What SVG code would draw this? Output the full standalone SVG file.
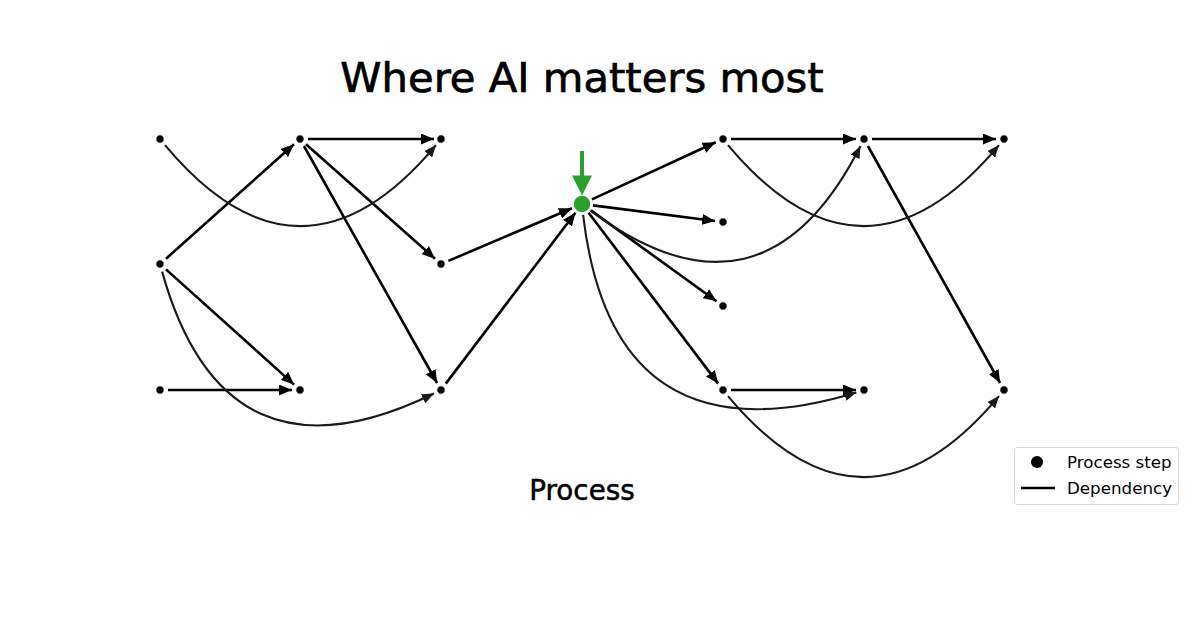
<svg xmlns="http://www.w3.org/2000/svg" width="1200" height="639" viewBox="0 0 1200 639">
<style>
.t{font-family:"DejaVu Sans","Noto Sans",sans-serif;fill:#000}
.s{fill:none;stroke:#000;stroke-width:2.6;marker-end:url(#ah)}
.c{fill:none;stroke:#1a1a1a;stroke-width:2.1;marker-end:url(#ahc)}
.n{fill:#000;stroke:#fff;stroke-width:1}
</style>
<defs>
<marker id="ah" markerUnits="userSpaceOnUse" viewBox="0 0 13 11" markerWidth="13" markerHeight="11" refX="13" refY="5.5" orient="auto"><path d="M0,0 L13,5.5 L0,11 z" fill="#000"/></marker>
<marker id="ahc" markerUnits="userSpaceOnUse" viewBox="0 0 12 10" markerWidth="12" markerHeight="10" refX="12" refY="5" orient="auto"><path d="M0,0 L12,5 L0,10 z" fill="#1a1a1a"/></marker>
</defs>
<rect width="1200" height="639" fill="#fff"/>
<text class="t" x="582" y="92" font-size="41.7" text-anchor="middle" stroke="#000" stroke-width="0.7">Where AI matters most</text>
<g id="connectors">
<path class="s" d="M166.0,258.7 L294.0,144.3"/>
<path class="s" d="M308,139 L434,139"/>
<path class="s" d="M306.0,144.3 L435.0,258.7"/>
<path class="s" d="M303.9,146.0 L437.1,383.0"/>
<path class="s" d="M166.0,269.4 L294.1,384.6"/>
<path class="s" d="M168,390 L292,390"/>
<path class="s" d="M448.4,260.9 L571.9,208.3"/>
<path class="s" d="M445.8,383.6 L575.4,212.8"/>
<path class="s" d="M592.0,199.4 L715.7,142.3"/>
<path class="s" d="M592.9,205.4 L715.1,221.0"/>
<path class="s" d="M590.9,210.4 L716.5,301.3"/>
<path class="s" d="M588.6,212.8 L718.2,383.6"/>
<path class="s" d="M731,139 L856,139"/>
<path class="s" d="M872,139 L996,139"/>
<path class="s" d="M867.9,146.0 L1000.1,383.0"/>
<path class="s" d="M731,390 L856,390"/>
<path class="c" d="M165,145.1 Q300.5,307.1 436,145.1"/>
<path class="c" d="M728,145.1 Q863.5,307.1 999,145.1"/>
<path class="c" d="M728,396.1 Q863.5,558.1 999,396.1"/>
<path class="c" d="M162.1,271.6 Q224.9,495.6 433.9,393.5"/>
<path class="c" d="M590.6,210.6 Q762.6,339.0 860.5,146.1"/>
<path class="c" d="M583.1,214.8 Q612.5,466.3 856.4,392.4"/>
</g>
<g id="n-a"><circle class="n" cx="160" cy="139" r="4.2"/></g>
<g id="n-b"><circle class="n" cx="160" cy="264" r="4.2"/></g>
<g id="n-c"><circle class="n" cx="160" cy="390" r="4.2"/></g>
<g id="n-d"><circle class="n" cx="300" cy="139" r="4.2"/></g>
<g id="n-e"><circle class="n" cx="300" cy="390" r="4.2"/></g>
<g id="n-f"><circle class="n" cx="441" cy="139" r="4.2"/></g>
<g id="n-g"><circle class="n" cx="441" cy="264" r="4.2"/></g>
<g id="n-h"><circle class="n" cx="441" cy="390" r="4.2"/></g>
<g id="n-x"><circle cx="582" cy="204" r="9" fill="#2ca02c" stroke="#fff" stroke-width="1.5"/></g>
<g id="n-i"><circle class="n" cx="723" cy="139" r="4.2"/></g>
<g id="n-j"><circle class="n" cx="723" cy="222" r="4.2"/></g>
<g id="n-k"><circle class="n" cx="723" cy="306" r="4.2"/></g>
<g id="n-l"><circle class="n" cx="723" cy="390" r="4.2"/></g>
<g id="n-m"><circle class="n" cx="864" cy="139" r="4.2"/></g>
<g id="n-n"><circle class="n" cx="864" cy="390" r="4.2"/></g>
<g id="n-o"><circle class="n" cx="1004" cy="139" r="4.2"/></g>
<g id="n-p"><circle class="n" cx="1004" cy="390" r="4.2"/></g>
<g id="highlight">
<line x1="582" y1="151" x2="582" y2="177" stroke="#2ca02c" stroke-width="4"/>
<path d="M572,175.5 L592,175.5 L582,195.5 z" fill="#2ca02c"/>
</g>
<text class="t" x="582" y="500" font-size="27.8" text-anchor="middle" stroke="#000" stroke-width="0.5">Process</text>
<g id="legend">
<rect x="1014.5" y="447.5" width="164" height="57" rx="3" fill="#fff" fill-opacity="0.8" stroke="#d6d6d6" stroke-width="1"/>
<circle cx="1037" cy="462" r="6" fill="#000"/>
<line x1="1021" y1="488" x2="1055" y2="488" stroke="#000" stroke-width="2.4"/>
<text class="t" x="1067" y="468" font-size="16.7">Process step</text>
<text class="t" x="1067" y="494" font-size="16.7">Dependency</text>
</g>
</svg>
